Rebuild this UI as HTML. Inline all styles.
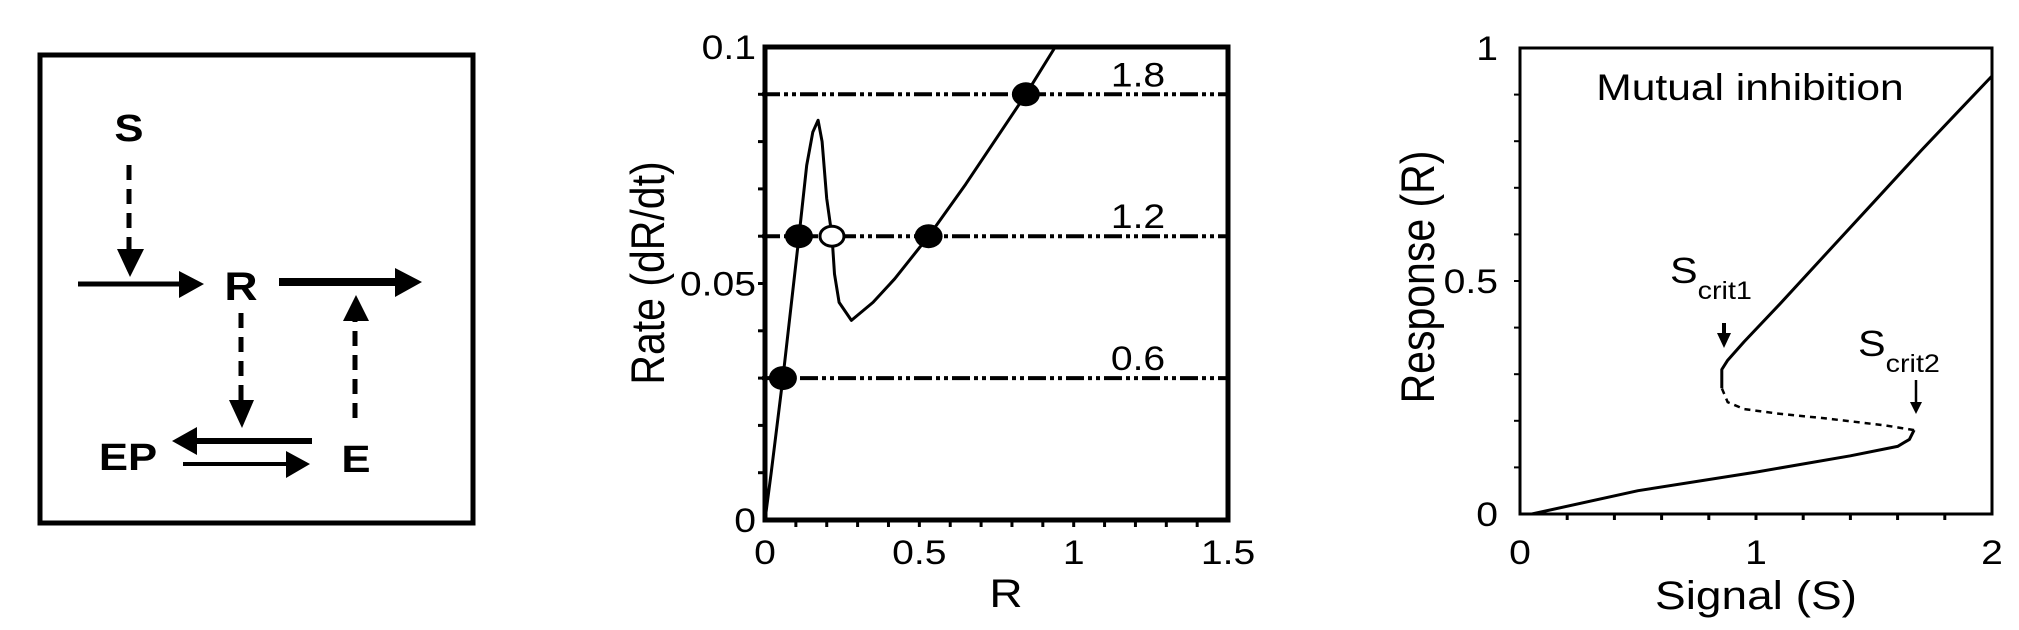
<!DOCTYPE html>
<html><head><meta charset="utf-8"><style>
html,body{margin:0;padding:0;background:#fff;}
svg{display:block;font-family:"Liberation Sans",Arial,sans-serif;}
</style></head><body>
<svg id="fig" width="2019" height="630" viewBox="0 0 2019 630" xmlns="http://www.w3.org/2000/svg">
<defs></defs>
<!-- Panel 1: scheme -->
<g fill="#000" stroke="#000">
  <rect x="40" y="55" width="433" height="468" fill="none" stroke-width="5"/>
  <text stroke="none" font-weight="bold" font-size="38" text-anchor="middle" transform="translate(129,141) scale(1.15,1)">S</text>
  <line x1="129" y1="165" x2="129" y2="251" stroke-width="5" stroke-dasharray="15,9"/>
  <polygon stroke="none" points="117,249 144,249 130,277"/>
  <line x1="78" y1="284" x2="182" y2="284" stroke-width="5"/>
  <polygon stroke="none" points="179,271 204,284 179,298"/>
  <text stroke="none" font-weight="bold" font-size="40" text-anchor="middle" transform="translate(241,300) scale(1.15,1)">R</text>
  <line x1="279" y1="282" x2="398" y2="282" stroke-width="8"/>
  <polygon stroke="none" points="395,268 422,282 395,297"/>
  <line x1="241" y1="313" x2="241" y2="402" stroke-width="5" stroke-dasharray="15,9"/>
  <polygon stroke="none" points="229,400 254,400 242,428"/>
  <line x1="355" y1="418" x2="355" y2="319" stroke-width="5" stroke-dasharray="15,9"/>
  <polygon stroke="none" points="343,321 369,321 356,295"/>
  <text stroke="none" font-weight="bold" font-size="38" text-anchor="middle" transform="translate(128,470) scale(1.15,1)">EP</text>
  <text stroke="none" font-weight="bold" font-size="38" text-anchor="middle" transform="translate(356,472) scale(1.15,1)">E</text>
  <line x1="312" y1="441" x2="194" y2="441" stroke-width="6"/>
  <polygon stroke="none" points="197,427 172,441 197,455"/>
  <line x1="183" y1="464" x2="289" y2="464" stroke-width="4"/>
  <polygon stroke="none" points="286,451 310,464 286,478"/>
</g>
<g id="c2"></g>
<g id="c3"></g>
</svg>
<script>
// ---- Chart 2 data ----
const rateR = [0,0.02,0.058,0.11,0.135,0.155,0.172,0.185,0.2,0.217,0.225,0.24,0.28,0.35,0.42,0.53,0.65,0.845,0.94];
const rateV = [0,0.01,0.03,0.06,0.075,0.082,0.0845,0.08,0.068,0.06,0.052,0.046,0.0422,0.046,0.051,0.06,0.071,0.09,0.1];
const levelValues = [0.09,0.06,0.03];
const levelLabels = ["1.8","1.2","0.6"];
const filledDotsR = [0.058,0.11,0.53,0.845];
const filledDotsV = [0.03,0.06,0.06,0.09];
const openDotsR = [0.217];
const openDotsV = [0.06];
const c2XTicks = [0,0.5,1,1.5];
const c2XTickLabels = ["0","0.5","1","1.5"];
const c2YTicks = [0,0.05,0.1];
const c2YTickLabels = ["0","0.05","0.1"];
// ---- Chart 3 data ----
const lowerS = [0.05,0.5,1.0,1.4,1.6,1.65,1.67];
const lowerR = [0,0.05,0.09,0.125,0.145,0.16,0.18];
const midS = [1.67,1.55,1.3,1.1,0.95,0.88,0.855];
const midR = [0.18,0.19,0.205,0.215,0.225,0.24,0.27];
const upperS = [0.855,0.855,0.88,0.95,1.1,1.3,1.5,1.7,1.85,2.0];
const upperR = [0.27,0.31,0.33,0.37,0.45,0.56,0.67,0.78,0.86,0.94];
const c3XTicks = [0,1,2];
const c3XTickLabels = ["0","1","2"];
const c3YTicks = [0,0.5,1];
const c3YTickLabels = ["0","0.5","1"];

const NS = "http://www.w3.org/2000/svg";
function mk(parent, tag, attrs){const e=document.createElementNS(NS,tag);for(const k in attrs)e.setAttribute(k,attrs[k]);parent.appendChild(e);return e;}
function txt(parent, s, x, y, size, anchor, rot){
  const t=mk(parent,'text',{'font-size':size,'text-anchor':anchor,transform:'translate('+x+','+y+') scale(1.15,1)'+(rot?' rotate(-90)':'')});
  t.textContent=s;return t;
}

// Chart 2
const g2=document.getElementById('c2');
const x2=r=>765+r*308.7, y2=v=>520-v*4730;
mk(g2,'rect',{x:765,y:47,width:463,height:473,fill:'none',stroke:'#000','stroke-width':5});
for(let i=1;i<15;i++){const t=mk(g2,'line',{x1:x2(i*0.1),x2:x2(i*0.1),y1:520,y2:527,stroke:'#000','stroke-width':3});

}
for(let i=1;i<10;i++){const t=mk(g2,'line',{x1:758,x2:765,y1:y2(i*0.01),y2:y2(i*0.01),stroke:'#000','stroke-width':3});

}
c2XTicks.forEach((v,i)=>{const t=txt(g2,c2XTickLabels[i],x2(v),564,34,'middle');

});
c2YTicks.forEach((v,i)=>{const t=txt(g2,c2YTickLabels[i],756,y2(v)+12,34,'end');

});
levelValues.forEach((v,i)=>{
  const l=mk(g2,'line',{x1:762,x2:1228,y1:y2(v),y2:y2(v),stroke:'#000','stroke-width':4,'stroke-dasharray':'18,4,4,4,4,4'});
  
  
  const t=txt(g2,levelLabels[i],1138,y2(v)-8,34,'middle');
  
  
});
let d='';rateR.forEach((r,i)=>{d+=(i?'L':'M')+x2(r).toFixed(1)+','+y2(rateV[i]).toFixed(1);});
const p2=mk(g2,'path',{d:d,fill:'none',stroke:'#000','stroke-width':3,'stroke-linejoin':'round'});


filledDotsR.forEach((r,i)=>{const c=mk(g2,'ellipse',{cx:x2(r),cy:y2(filledDotsV[i]),rx:14,ry:12,fill:'#000'});

});
openDotsR.forEach((r,i)=>{const c=mk(g2,'ellipse',{cx:x2(r),cy:y2(openDotsV[i]),rx:12,ry:10,fill:'#fff',stroke:'#000','stroke-width':3});

});
const xt2=txt(g2,'R',1006,607,40,'middle');


const yt2=txt(g2,'Rate (dR/dt)',664,273,41,'middle',true);



// Chart 3
const g3=document.getElementById('c3');
const x3=s=>1520+s*236, y3=r=>514-r*466;
mk(g3,'rect',{x:1520,y:48,width:472,height:466,fill:'none',stroke:'#000','stroke-width':3});
for(let i=1;i<10;i++){const t=mk(g3,'line',{x1:x3(i*0.2),x2:x3(i*0.2),y1:514,y2:520,stroke:'#000','stroke-width':3});

}
for(let i=1;i<10;i++){const t=mk(g3,'line',{x1:1514,x2:1520,y1:y3(i*0.1),y2:y3(i*0.1),stroke:'#000','stroke-width':2});

}
c3XTicks.forEach((v,i)=>{const t=txt(g3,c3XTickLabels[i],x3(v),564,34,'middle');

});
c3YTicks.forEach((v,i)=>{const t=txt(g3,c3YTickLabels[i],1498,y3(v)+12,34,'end');

});
function pathOf(S,R){let s='';S.forEach((v,i)=>{s+=(i?'L':'M')+x3(v).toFixed(1)+','+y3(R[i]).toFixed(1);});return s;}
const lo=mk(g3,'path',{d:pathOf(lowerS,lowerR),fill:'none',stroke:'#000','stroke-width':3,'stroke-linejoin':'round'});


const mi=mk(g3,'path',{d:pathOf(midS,midR),fill:'none',stroke:'#000','stroke-width':2.5,'stroke-dasharray':'6,5'});


const up=mk(g3,'path',{d:pathOf(upperS,upperR),fill:'none',stroke:'#000','stroke-width':3,'stroke-linejoin':'round'});


const tt=txt(g3,'Mutual inhibition',1750,100,37,'middle');


// Scrit annotations
const s1=mk(g3,'text',{'font-size':36,transform:'translate(1670,283) scale(1.15,1)'});


s1.innerHTML='S<tspan font-size="25" dy="16">crit1</tspan>';
mk(g3,'line',{x1:1724,x2:1724,y1:323,y2:336,stroke:'#000','stroke-width':4});
mk(g3,'polygon',{points:'1717,333 1731,333 1724,348',fill:'#000'});
const s2=mk(g3,'text',{'font-size':36,transform:'translate(1858,356) scale(1.15,1)'});


s2.innerHTML='S<tspan font-size="25" dy="16">crit2</tspan>';
mk(g3,'line',{x1:1916,x2:1916,y1:380,y2:404,stroke:'#000','stroke-width':2.5});
mk(g3,'polygon',{points:'1910,402 1922,402 1916,414',fill:'#000'});
const xt3=txt(g3,'Signal (S)',1756,609,40,'middle');


const yt3=txt(g3,'Response (R)',1434,277,41,'middle',true);


</script>
</body></html>
